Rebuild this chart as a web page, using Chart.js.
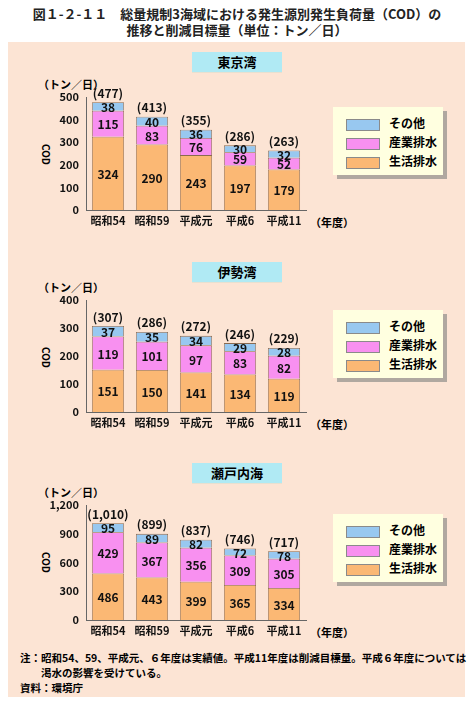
<!DOCTYPE html>
<html><head><meta charset="utf-8">
<script src="https://cdn.jsdelivr.net/npm/chart.js@4"></script>
<style>
body{margin:0;width:474px;height:706px;background:#fff;font-family:"Noto Sans CJK JP",sans-serif;position:relative;overflow:hidden}
.abs{position:absolute}
#title{left:0;width:474px;top:6px;text-align:center;font-size:13px;font-weight:bold;line-height:16px;color:#222}
#panel{left:8px;top:42px;width:457px;height:655px;background:#fce4d4}
.hdr{left:192px;width:90px;height:20px;background:#b0eaf4;text-align:center;font-weight:bold;font-size:13px;line-height:20px;border-bottom:1px solid #e8e0d0}
.unit{left:38px;font-size:11px;font-weight:bold}
.cod{left:36px;font-size:10px;font-weight:bold;transform:rotate(90deg)}
.yr{left:310px;font-size:11px;font-weight:bold}
.leg{left:333px;width:110px;height:68px;background:#ffffe0;box-shadow:4px 4px 0 #b0a8a0;font-size:12px;font-weight:bold}
.leg div{position:absolute;left:13px;height:12px;line-height:12px}
.leg span{display:inline-block;width:32px;height:10px;border:1px solid #8a8a8a;vertical-align:middle;margin-right:9px}
.note{left:20px;font-size:10.5px;font-weight:bold;line-height:15px}
</style></head><body>
<div id="title" class="abs">図１-２-１１　総量規制3海域における発生源別発生負荷量（COD）の<br>推移と削減目標量（単位：トン／日）</div>
<div id="panel" class="abs"></div>
<div id="root"></div>
<div class="abs note" style="top:650px">注：昭和54、59、平成元、６年度は実績値。平成11年度は削減目標量。平成６年度については<br>　　渇水の影響を受けている。<br>資料：環境庁</div>
<script>
const years = ['昭和54', '昭和59', '平成元', '平成6', '平成11'];
const seriesNames = ['生活排水', '産業排水', 'その他'];
const colors = ['#fbb874', '#f890f0', '#98c8f0'];

const areas = ['東京湾', '伊勢湾', '瀬戸内海'];
const seikatsu = [[324, 290, 243, 197, 179], [151, 150, 141, 134, 119], [486, 443, 399, 365, 334]];
const sangyo = [[115, 83, 76, 59, 52], [119, 101, 97, 83, 82], [429, 367, 356, 309, 305]];
const sonota = [[38, 40, 36, 30, 32], [37, 35, 34, 29, 28], [95, 89, 82, 72, 78]];
const totals = [['(477)', '(413)', '(355)', '(286)', '(263)'], ['(307)', '(286)', '(272)', '(246)', '(229)'], ['(1,010)', '(899)', '(837)', '(746)', '(717)']];
const yMax = [500, 400, 1200];
const yStep = [100, 100, 300];

const hdrTop = [52, 262, 463];
const canvasTop = [75, 278, 483];
const canvasH = [160, 159, 162];
const legTop = [107, 310, 514];

const root = document.getElementById('root');

const labelPlugin = {
  id: 'labels',
  afterDatasetsDraw(chart) {
    const ctx = chart.ctx;
    const idx = chart.options.plugins.labels.idx;
    ctx.save();
    ctx.font = 'bold 12px "Noto Sans CJK JP"';
    ctx.fillStyle = '#111';
    ctx.textAlign = 'center';
    ctx.textBaseline = 'middle';
    chart.data.datasets.forEach((ds, d) => {
      chart.getDatasetMeta(d).data.forEach((bar, i) => {
        ctx.fillText(ds.data[i], bar.x, (bar.y + bar.base) / 2 + 1);
      });
    });
    const top = chart.getDatasetMeta(2).data;
    top.forEach((bar, i) => ctx.fillText(totals[idx][i], bar.x, bar.y - 9));
    ctx.restore();
  }
};

areas.forEach((name, k) => {
  root.insertAdjacentHTML('beforeend',
    `<div class="abs hdr" style="top:${hdrTop[k]}px">${name}</div>
     <div class="abs unit" style="top:${canvasTop[k] + 1}px">（トン／日）</div>
     <div class="abs cod" style="top:${canvasTop[k] + 72}px">COD</div>
     <div class="abs yr" style="top:${canvasTop[k] + canvasH[k] - 21}px">（年度）</div>
     <div class="abs leg" style="top:${legTop[k]}px">
       <div style="top:10px"><span style="background:${colors[2]}"></span>${seriesNames[2]}</div>
       <div style="top:29px"><span style="background:${colors[1]}"></span>${seriesNames[1]}</div>
       <div style="top:48px"><span style="background:${colors[0]}"></span>${seriesNames[0]}</div>
     </div>
     <div class="abs" style="left:20px;top:${canvasTop[k]}px;width:300px;height:${canvasH[k]}px"><canvas id="c${k}"></canvas></div>`);
});

areas.forEach((name, k) => {
  const vals = [seikatsu[k], sangyo[k], sonota[k]];
  new Chart(document.getElementById('c' + k), {
    type: 'bar',
    data: {
      labels: years,
      datasets: seriesNames.map((s, d) => ({
        label: s, data: vals[d], backgroundColor: colors[d],
        borderColor: '#8a6a50', borderWidth: 0.8,
        barPercentage: 0.73, categoryPercentage: 1
      }))
    },
    options: {
      responsive: true, maintainAspectRatio: false, animation: false,
      layout: { padding: { top: 22, right: 14, left: 0, bottom: 0 } },
      plugins: { legend: { display: false }, tooltip: { enabled: false }, labels: { idx: k } },
      scales: {
        x: {
          stacked: true,
          grid: { display: false, drawTicks: false },
          border: { color: '#666' },
          ticks: { color: '#111', font: { size: 11, weight: 'bold', family: '"Noto Sans CJK JP"' }, padding: 4 },
          afterFit: s => { s.height = 25; }
        },
        y: {
          stacked: true, min: 0, max: yMax[k],
          grid: { display: false, drawTicks: true, tickLength: 4 },
          border: { color: '#666' },
          ticks: { stepSize: yStep[k], color: '#111', font: { size: 11, weight: 'bold', family: '"Noto Sans CJK JP"' }, padding: 3 },
          afterFit: s => { s.width = 66; }
        }
      }
    },
    plugins: [labelPlugin]
  });
});
</script>
</body></html>
